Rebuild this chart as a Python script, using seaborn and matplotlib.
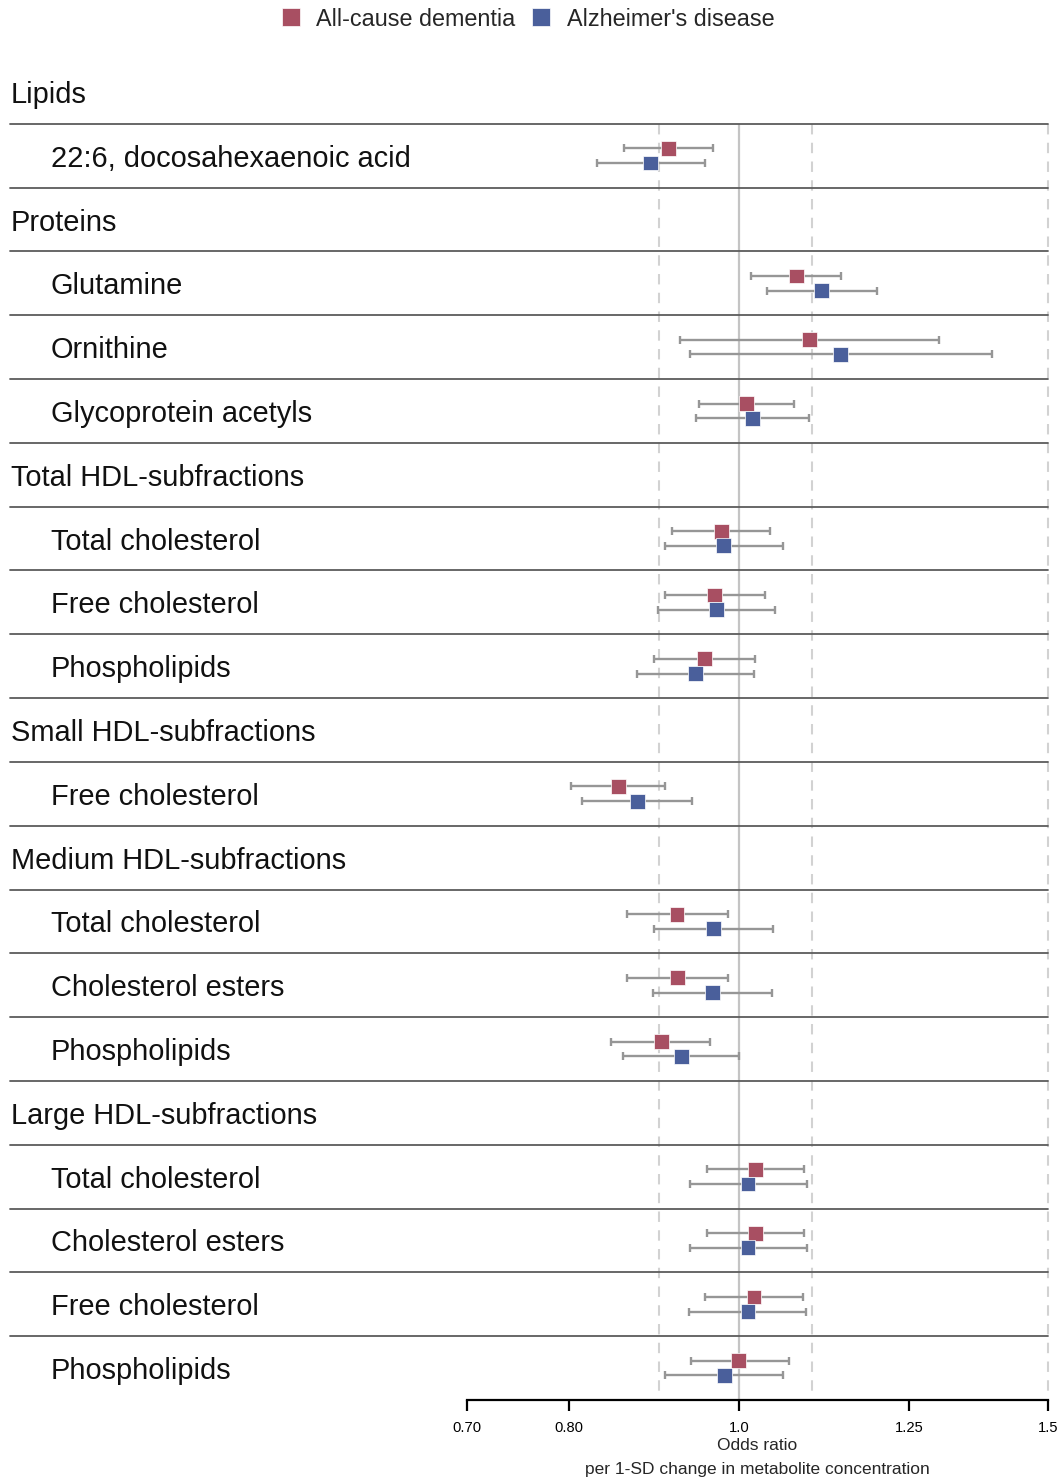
import matplotlib.pyplot as plt
import numpy as np
import pandas as pd
import seaborn as sns
from matplotlib.lines import Line2D
from matplotlib.ticker import NullLocator

sections = ["Lipids", "Proteins", "Total HDL-subfractions", "Small HDL-subfractions",
            "Medium HDL-subfractions", "Large HDL-subfractions"]
metabolites = [
    ["22:6, docosahexaenoic acid"],
    ["Glutamine", "Ornithine", "Glycoprotein acetyls"],
    ["Total cholesterol", "Free cholesterol", "Phospholipids"],
    ["Free cholesterol"],
    ["Total cholesterol", "Cholesterol esters", "Phospholipids"],
    ["Total cholesterol", "Cholesterol esters", "Free cholesterol", "Phospholipids"],
]
outcomes = ["All-cause dementia", "Alzheimer's disease"]

# odds ratios with 95% CI, one value per metabolite (top to bottom)
dem_or = [0.912, 1.078, 1.097, 1.010, 0.977, 0.969, 0.956, 0.854, 0.922, 0.923, 0.903, 1.022, 1.022, 1.020, 1.000]
dem_lo = [0.860, 1.016, 0.926, 0.949, 0.916, 0.908, 0.895, 0.802, 0.863, 0.864, 0.846, 0.959, 0.959, 0.957, 0.939]
dem_hi = [0.967, 1.144, 1.300, 1.075, 1.042, 1.035, 1.021, 0.908, 0.986, 0.986, 0.963, 1.089, 1.089, 1.088, 1.068]
ad_or = [0.891, 1.115, 1.143, 1.018, 0.980, 0.971, 0.945, 0.875, 0.967, 0.966, 0.927, 1.012, 1.012, 1.012, 0.981]
ad_lo = [0.830, 1.038, 0.938, 0.945, 0.908, 0.899, 0.875, 0.814, 0.895, 0.894, 0.859, 0.938, 0.938, 0.937, 0.908]
ad_hi = [0.957, 1.198, 1.394, 1.096, 1.059, 1.049, 1.020, 0.940, 1.046, 1.044, 1.000, 1.093, 1.093, 1.092, 1.060]

xticks = [0.70, 0.80, 1.0, 1.25, 1.5]
xticklabels = ["0.70", "0.80", "1.0", "1.25", "1.5"]
palette = {outcomes[0]: "#a84f62", outcomes[1]: "#4a5f9b"}

# table layout: header row then one row per metabolite
rows = []
for sec, mets in zip(sections, metabolites):
    rows.append((sec, True))
    for m in mets:
        rows.append((m, False))
met_rows = [i for i, (_, h) in enumerate(rows) if not h]
n_rows = len(rows)

df = pd.DataFrame({
    "row": met_rows * 2,
    "Outcome": [outcomes[0]] * len(dem_or) + [outcomes[1]] * len(ad_or),
    "OR": dem_or + ad_or,
    "lo": dem_lo + ad_lo,
    "hi": dem_hi + ad_hi,
})
df["y"] = df["row"] + np.where(df["Outcome"] == outcomes[0], -0.115, 0.115)

sns.set_style("white")
plt.rcParams["font.family"] = ["Liberation Sans", "DejaVu Sans"]

fig = plt.figure(figsize=(10.62, 14.83), dpi=100)
ax = fig.add_axes([467 / 1062, 83 / 1483, 581 / 1062, 1340 / 1483])
ax.set_xscale("log")

# reference lines
ax.vlines([0.9, 1.1, 1.5], 0.5, n_rows - 0.5, colors="#d2d2d2", linestyles=(0, (5, 4)),
          lw=1.5, zorder=1, clip_on=False)
ax.vlines([1.0], 0.5, n_rows - 0.5, colors="#c4c4c4", lw=1.6, zorder=1)

for oc in outcomes:
    d = df[df["Outcome"] == oc]
    ax.errorbar(d["OR"], d["y"], xerr=[d["OR"] - d["lo"], d["hi"] - d["OR"]], fmt="none",
                ecolor="#969696", elinewidth=1.7, capsize=2.8, capthick=1.7, zorder=2)

sns.scatterplot(data=df, x="OR", y="y", hue="Outcome", palette=palette, marker="s", s=115,
                edgecolor="white", linewidth=0.5, zorder=3, legend=False, ax=ax)

# row separators and labels
left = (10 - 467) / 581
for i in range(1, n_rows):
    ax.axhline(i - 0.5, xmin=left, xmax=1, color="#5c5c5c", lw=1.3, clip_on=False, zorder=1)
for i, (lab, header) in enumerate(rows):
    xpos = (11 - 467) / 581 if header else (51 - 467) / 581
    ax.text(xpos, i, lab, transform=ax.get_yaxis_transform(), ha="left",
            va="center_baseline", fontsize=20.9, color="#111111")

ax.set_xlim(0.7, 1.5)
ax.set_ylim(n_rows - 0.5, -0.5)
ax.set_xticks(xticks)
ax.set_xticklabels(xticklabels)
ax.xaxis.set_minor_locator(NullLocator())
ax.set_yticks([])
ax.set_ylabel("")
for s in ["top", "right", "left"]:
    ax.spines[s].set_visible(False)
ax.spines["bottom"].set_color("black")
ax.spines["bottom"].set_linewidth(1.6)
ax.tick_params(axis="x", bottom=True, length=8, width=1.6, labelsize=10.6, pad=7, colors="black")
ax.set_xlabel("Odds ratio\nper 1-SD change in metabolite concentration", fontsize=12.5,
              labelpad=2, linespacing=1.75)

handles = [Line2D([], [], marker="s", ls="", markersize=13.5, color=palette[o],
                  markeredgecolor="white", markeredgewidth=0.5) for o in outcomes]
fig.legend(handles, outcomes, loc="center", bbox_to_anchor=(528 / 1062, 1 - 19 / 1483),
           ncol=2, frameon=False, fontsize=16.8, handlelength=0.8, handletextpad=0.7,
           columnspacing=0.7, borderpad=0)

fig.savefig("out.png", dpi=100)
